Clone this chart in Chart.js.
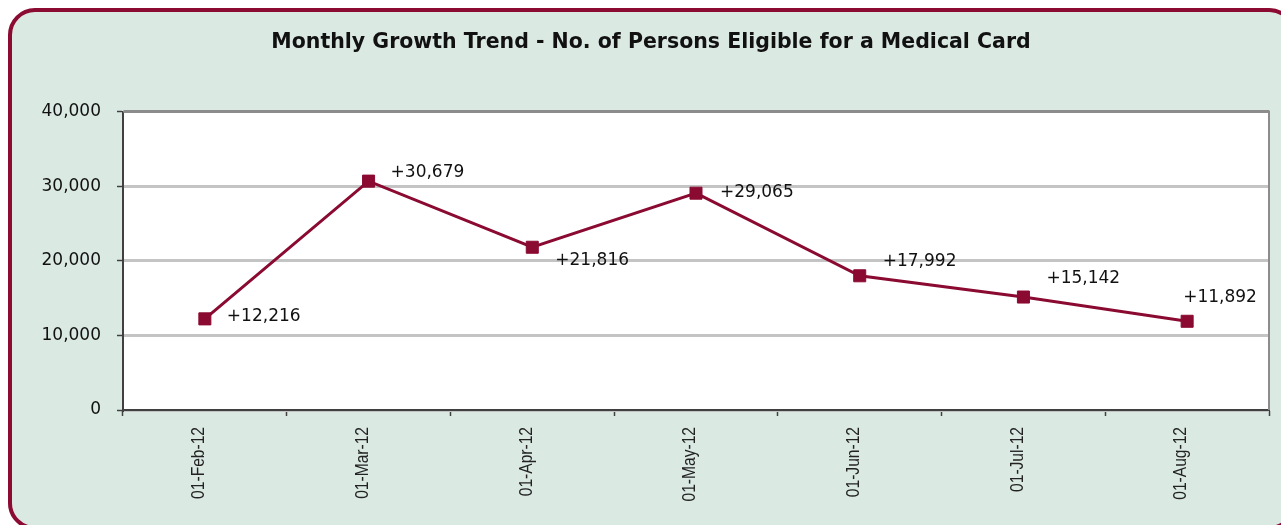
<!DOCTYPE html>
<html>
<head>
<meta charset="utf-8">
<script src="https://cdn.jsdelivr.net/npm/chart.js@4"></script>
<style>
  html, body { margin: 0; padding: 0; background: #ffffff; }
  body { width: 1281px; height: 525px; position: relative; overflow: hidden; }
  .frame {
    position: absolute; left: 8px; top: 8px;
    width: 1280px; height: 514px;
    background: #dbe9e3;
    border: 4px solid #8b0b32;
    border-radius: 27px;
  }
  #growthChart { position: absolute; left: 0; top: 0; }
</style>
</head>
<body>
<div class="frame"></div>
<canvas id="growthChart" width="1281" height="525"></canvas>
<script>
// Chart data
const months = ['01-Feb-12', '01-Mar-12', '01-Apr-12', '01-May-12', '01-Jun-12', '01-Jul-12', '01-Aug-12'];
const newEligible = [12216, 30679, 21816, 29065, 17992, 15142, 11892];
const yTicks = [0, 10000, 20000, 30000, 40000];

// Where each value label sits relative to its point (dx, dy)
const labelOffsets = [[22, -2], [22, -9], [23, 13], [24, -1], [23, -14], [23, -18], [-4, -24]];

const maroon = '#8b0a32';
const fmt = v => v.toLocaleString('en-US');

// White plot area + grey frame on top/right
const plotArea = {
    id: 'plotArea',
    beforeDraw(chart) {
        const { ctx, chartArea: a } = chart;
        ctx.save();
        ctx.fillStyle = '#ffffff';
        ctx.fillRect(a.left, a.top, a.right - a.left, a.bottom - a.top);
        ctx.restore();
    },
    afterDraw(chart) {
        const { ctx, chartArea: a } = chart;
        ctx.save();
        ctx.strokeStyle = '#8c8c8c';
        ctx.lineWidth = 2;
        ctx.beginPath();
        ctx.moveTo(a.left, a.top);
        ctx.lineTo(a.right, a.top);
        ctx.lineTo(a.right, a.bottom);
        ctx.stroke();
        ctx.restore();
    }
};

// Condensed, rotated month labels (the original uses a narrow font)
const narrowMonthLabels = {
    id: 'narrowMonthLabels',
    afterDraw(chart) {
        const { ctx } = chart;
        const xs = chart.scales.x;
        ctx.save();
        ctx.font = '19px "Liberation Sans", Arial, sans-serif';
        ctx.fillStyle = '#222222';
        ctx.textAlign = 'right';
        ctx.textBaseline = 'middle';
        months.forEach((m, i) => {
            ctx.save();
            ctx.translate(xs.getPixelForValue(i) - 6, xs.top + 17);
            ctx.rotate(-Math.PI / 2);
            ctx.scale(0.82, 1);
            ctx.fillText(m, 0, 0);
            ctx.restore();
        });
        ctx.restore();
    }
};

// "+12,216" style labels next to each point
const valueLabels = {
    id: 'valueLabels',
    afterDatasetsDraw(chart) {
        const { ctx } = chart;
        const meta = chart.getDatasetMeta(0);
        ctx.save();
        ctx.font = '17px "DejaVu Sans", Verdana, sans-serif';
        ctx.fillStyle = '#111111';
        ctx.textAlign = 'left';
        ctx.textBaseline = 'middle';
        meta.data.forEach((pt, i) => {
            const [dx, dy] = labelOffsets[i];
            ctx.fillText('+' + fmt(newEligible[i]), pt.x + dx, pt.y + dy);
        });
        ctx.restore();
    }
};

new Chart(document.getElementById('growthChart'), {
    type: 'line',
    data: {
        labels: months,
        datasets: [{
            data: newEligible,
            borderColor: maroon,
            backgroundColor: maroon,
            borderWidth: 3,
            tension: 0,
            pointStyle: 'rect',
            pointRadius: 8.5,
            pointBorderWidth: 1,
            pointBorderColor: maroon,
            pointBackgroundColor: maroon
        }]
    },
    options: {
        responsive: false,
        animation: false,
        layout: { padding: { left: 33, right: 12, top: 0, bottom: 0 } },
        plugins: {
            legend: { display: false },
            tooltip: { enabled: false },
            title: {
                display: true,
                text: 'Monthly Growth Trend - No. of Persons Eligible for a Medical Card',
                color: '#111111',
                font: { family: '"DejaVu Sans", Verdana, sans-serif', size: 20.5, weight: 'bold', lineHeight: 1.2 },
                padding: { top: 30, bottom: 57 }
            }
        },
        scales: {
            x: {
                offset: true,
                afterFit(scale) { scale.height = 115; },
                grid: {
                    offset: true,
                    drawOnChartArea: false,
                    tickLength: 6,
                    tickColor: '#404040',
                    tickWidth: 1.5
                },
                border: { color: '#404040', width: 2 },
                ticks: { display: false }
            },
            y: {
                min: 0,
                max: 40000,
                afterFit(scale) { scale.width = 90; },
                afterBuildTicks(scale) { scale.ticks = yTicks.map(v => ({ value: v })); },
                grid: {
                    color: ctx => ctx.tick && ctx.tick.value === 40000 ? '#8c8c8c' : '#c4c4c4',
                    lineWidth: 3,
                    tickLength: 6,
                    tickColor: '#404040',
                    tickWidth: 1.5
                },
                border: { color: '#404040', width: 2 },
                ticks: {
                    padding: 16,
                    color: '#111111',
                    font: { family: '"DejaVu Sans", Verdana, sans-serif', size: 17 },
                    callback: v => fmt(v)
                }
            }
        }
    },
    plugins: [plotArea, narrowMonthLabels, valueLabels]
});
</script>
</body>
</html>
